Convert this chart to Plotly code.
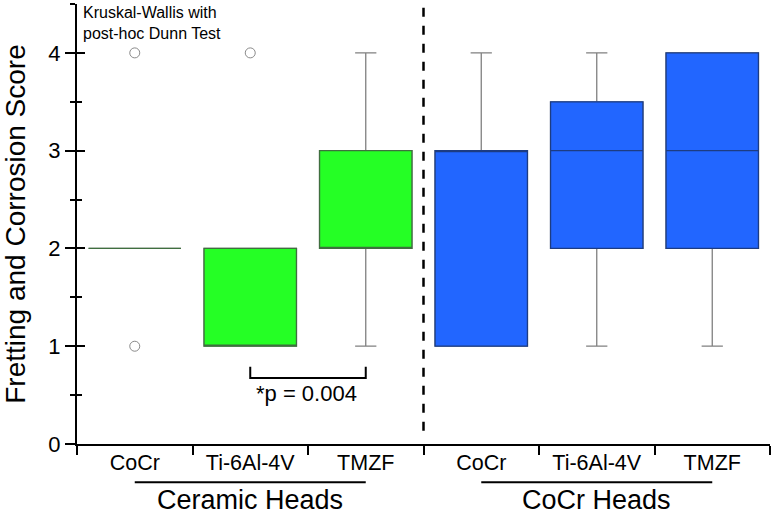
import plotly.graph_objects as go

# data
groups = ["Ceramic Heads", "CoCr Heads"]
stems = ["CoCr", "Ti-6Al-4V", "TMZF", "CoCr", "Ti-6Al-4V", "TMZF"]
q1 = [2, 1, 2, 1, 2, 2]
median = [2, 1, 2, 3, 3, 3]
q3 = [2, 2, 3, 3, 3.5, 4]
lower = [2, 1, 1, 1, 1, 1]
upper = [2, 2, 4, 4, 4, 4]
outlier_x = [0, 0, 1]
outlier_y = [1, 4, 4]
fills = ["#25ff25"] * 3 + ["#2266ff"] * 3
edges = ["#3f6f3f"] * 3 + ["#1d3c82"] * 3

pos = list(range(len(stems)))
font = "Liberation Sans, Arial, sans-serif"

fig = go.Figure()

# whiskers (grey) underneath
for i in pos:
    fig.add_trace(go.Box(x=[i], q1=[q1[i]], median=[median[i]], q3=[q3[i]],
                         lowerfence=[lower[i]], upperfence=[upper[i]],
                         width=0.8, whiskerwidth=0.23,
                         line=dict(color="#808080", width=1.3),
                         fillcolor="rgba(0,0,0,0)", boxpoints=False,
                         hoverinfo="skip", showlegend=False))
# coloured boxes on top
for i in pos:
    fig.add_trace(go.Box(x=[i], q1=[q1[i]], median=[median[i]], q3=[q3[i]],
                         lowerfence=[q1[i]], upperfence=[q3[i]],
                         width=0.8, whiskerwidth=0,
                         line=dict(color=edges[i], width=1.3),
                         fillcolor=fills[i], boxpoints=False,
                         showlegend=False))

fig.add_trace(go.Scatter(x=outlier_x, y=outlier_y, mode="markers",
                         marker=dict(symbol="circle-open", size=10,
                                     color="#8a8a8a", line=dict(width=1)),
                         showlegend=False))

fig.update_layout(
    width=774, height=515,
    margin=dict(l=77, r=4, t=4, b=71),
    plot_bgcolor="white", paper_bgcolor="white",
    boxmode="overlay",
    font=dict(family=font, color="black"),
    xaxis=dict(range=[-0.5, 5.5], tickmode="array", tickvals=pos, ticktext=stems,
               ticks="", ticklabelstandoff=-2, tickfont=dict(size=21.5),
               showline=True, linecolor="black", linewidth=2, showgrid=False,
               zeroline=False,
               minor=dict(tickmode="array", tickvals=[p - 0.5 for p in pos] + [5.5],
                          ticks="outside", ticklen=9, tickwidth=2, tickcolor="black",
                          showgrid=False)),
    yaxis=dict(range=[0, 4.5], tickmode="array", tickvals=[0, 1, 2, 3, 4],
               ticks="outside", ticklen=10, tickwidth=2, tickcolor="black",
               tickfont=dict(size=22), showline=True, linecolor="black",
               linewidth=2, showgrid=False, zeroline=False,
               title=dict(text="Fretting and Corrosion Score",
                          font=dict(size=28), standoff=20),
               minor=dict(tickmode="array", tickvals=[0.5, 1.5, 2.5, 3.5, 4.5],
                          ticks="outside", ticklen=5, tickwidth=2,
                          tickcolor="black", showgrid=False)),
    yaxis2=dict(range=[0, 4.5], overlaying="y", side="left", anchor="x",
                tickmode="array", tickvals=[0, 1, 2, 3, 4], ticks="inside",
                ticklen=8, tickwidth=2, tickcolor="black", showticklabels=False,
                showline=False, showgrid=False, zeroline=False,
                minor=dict(tickmode="array", tickvals=[0.5, 1.5, 2.5, 3.5, 4.5],
                           ticks="inside", ticklen=5, tickwidth=2,
                           tickcolor="black", showgrid=False)),
)
# dummy trace so yaxis2 is drawn
fig.add_trace(go.Scatter(x=[None], y=[None], yaxis="y2", showlegend=False))

# dashed divider between the two head groups
fig.add_shape(type="line", xref="x", yref="paper", x0=2.5, x1=2.5, y0=0.03, y1=1.01,
              line=dict(color="black", width=2.5, dash="dash"))

# group labels with underline
for g, c in zip(groups, [1, 4]):
    fig.add_shape(type="line", xref="x", yref="paper", x0=c - 1, x1=c + 1,
                  y0=-0.087, y1=-0.087, line=dict(color="black", width=2))
    fig.add_annotation(x=c, y=-0.127, xref="x", yref="paper", text=g,
                       showarrow=False, yanchor="middle", font=dict(size=27))

# significance bracket
fig.add_shape(type="path", xref="x", yref="y",
              path="M 1,0.79 L 1,0.675 L 2,0.675 L 2,0.79",
              line=dict(color="black", width=2))
fig.add_annotation(x=1.49, y=0.52, xref="x", yref="y", text="*p = 0.004",
                   showarrow=False, font=dict(size=22))

fig.add_annotation(x=0.006, y=1.005, xref="paper", yref="paper",
                   text="Kruskal-Wallis with<br>post-hoc Dunn Test",
                   showarrow=False, xanchor="left", yanchor="top", align="left",
                   font=dict(size=16))

fig.write_html("out.html", config={"displayModeBar": False},
               post_script="document.body.style.margin='0';")
